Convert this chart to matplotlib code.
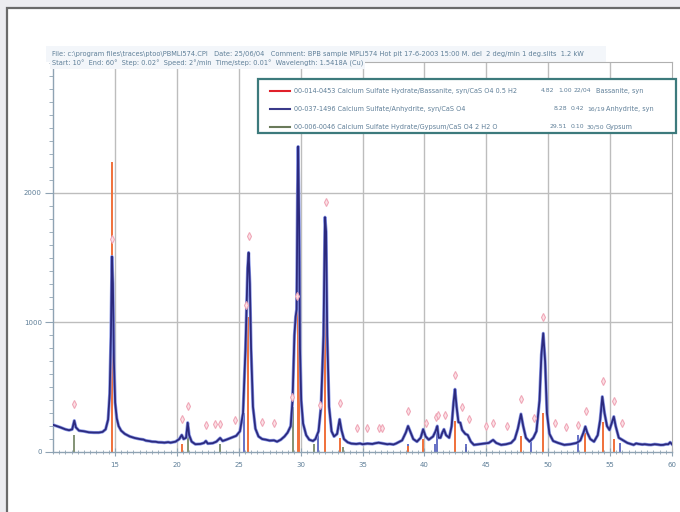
import matplotlib
matplotlib.use("Agg")
import matplotlib.pyplot as plt
from matplotlib.patches import Rectangle
from matplotlib.ticker import MultipleLocator

# ---------------- data ----------------
two_theta = [10.0, 10.3, 10.6, 11.0, 11.3, 11.55, 11.72, 11.85, 12.1, 12.5, 12.9, 13.3, 13.7, 14.0,
             14.25, 14.45, 14.58, 14.68, 14.76, 14.84, 14.92, 15.02, 15.15, 15.3, 15.5, 15.8, 16.2,
             16.6, 17.0, 17.3, 17.5, 17.8, 18.0, 18.3, 18.5, 18.8, 19.0, 19.3, 19.5, 19.9, 20.2,
             20.4, 20.55, 20.75, 20.88, 21.0,
             21.2, 21.5, 21.9, 22.2, 22.35, 22.5, 22.9, 23.2, 23.5, 23.7, 24.0, 24.4, 24.8, 25.1,
             25.35, 25.55, 25.72, 25.8, 25.9, 26.0, 26.15, 26.35, 26.6, 26.9, 27.2, 27.5, 27.85,
             28.1, 28.4, 28.7, 28.95, 29.2, 29.35, 29.5, 29.6, 29.68, 29.75, 29.8, 29.88, 29.95,
             30.05, 30.2, 30.45, 30.7, 31.0, 31.2, 31.45, 31.65, 31.85, 31.97, 32.06, 32.15, 32.3,
             32.5, 32.7, 32.95, 33.15, 33.3, 33.5, 33.8, 34.1, 34.5, 34.8, 35.0, 35.4, 35.8, 36.0,
             36.3, 36.7, 37.0, 37.2, 37.5, 37.7, 38.2, 38.5, 38.68, 38.85, 39.1, 39.4, 39.7, 39.9,
             40.1, 40.35, 40.7, 40.9,
             41.04, 41.15, 41.3, 41.45, 41.58, 41.75, 42.0, 42.2, 42.35, 42.47, 42.6, 42.75, 42.9,
             43.05, 43.3, 43.5, 43.75, 44.0, 44.4, 44.8, 45.2, 45.55, 45.8, 46.2, 46.6, 47.0, 47.3,
             47.55, 47.8, 47.98, 48.2, 48.5, 48.8, 49.05, 49.3, 49.45, 49.6, 49.75, 49.9, 50.1,
             50.4, 50.8, 51.3, 51.8, 52.3, 52.6, 52.85, 53.0, 53.15, 53.4, 53.7, 54.0, 54.2, 54.37,
             54.55, 54.75, 54.95, 55.15, 55.3, 55.45, 55.7, 56.0, 56.4, 56.9, 57.1, 57.3, 57.6,
             57.8, 58.1, 58.3, 58.6, 58.8, 59.1, 59.3, 59.5, 59.7, 59.85, 60.0]
counts = [210, 200, 190, 175, 168, 175, 242, 190, 165, 160, 152, 150, 150, 155,
          175, 250, 450, 900, 1508, 1300, 700, 380, 260, 200, 165, 140, 120,
          108, 100, 96, 88, 84, 80, 79, 75, 74, 72, 76, 72, 80, 100,
          131, 100, 110, 226, 130,
          80, 60, 62, 70, 85, 65, 68, 80, 108, 85, 95, 110, 125, 160,
          300, 800, 1420, 1539, 1300, 800, 350, 180, 120, 100, 95, 88, 90,
          80, 95, 120, 150, 200, 400, 900, 1045, 1100, 2000, 2357, 1800, 800,
          400, 220, 130, 95, 85, 100, 160, 350, 900, 1812, 1700, 900, 350,
          160, 120, 140, 252, 170, 100, 75, 65, 62, 66, 60, 65, 62, 67,
          72, 65, 60, 62, 58, 65, 90, 150, 200, 160, 100, 80, 110, 175,
          120, 95, 120, 160,
          200, 110, 110, 150, 175, 130, 110, 200, 380, 484, 350, 230, 226,
          170, 140, 131, 80, 55, 60, 65, 70, 93, 70, 55, 60, 70, 100,
          180, 293, 200, 110, 80, 110, 160, 400, 750, 916, 700, 300, 140,
          85, 70, 55, 60, 70, 90, 150, 196, 150, 100, 80, 130, 250, 427,
          300, 200, 170, 230, 273, 200, 110, 93, 70, 55, 66, 62, 58,
          60, 56, 55, 60, 58, 54, 55, 60, 60, 75, 60]

# reference stick patterns (2theta, height)
bassanite_pos = [14.78, 20.4, 25.72, 29.78, 29.9, 31.97, 33.2, 38.7, 39.9, 42.47, 47.8, 49.6, 52.95, 54.4, 55.3]
bassanite_h = [2240, 60, 1045, 2357, 1150, 1150, 110, 50, 100, 240, 120, 300, 150, 230, 100]
anhydrite_pos = [25.45, 31.4, 38.65, 40.85, 41.04, 43.35, 48.6, 52.4, 55.8]
anhydrite_h = [300, 150, 60, 60, 200, 60, 80, 130, 70]
gypsum_pos = [11.72, 20.9, 23.45, 29.4, 31.1, 33.4, 43.4]
gypsum_h = [130, 170, 60, 350, 60, 40, 40]

# peak-search markers
marker_x = [11.72, 14.80, 20.41, 20.90, 22.35, 23.1, 23.45, 24.73, 25.86, 25.6, 26.88, 27.88,
            29.31, 29.71, 31.58, 32.06, 33.2, 34.55, 35.38, 36.32, 36.59, 38.67, 40.1, 40.9,
            41.1, 41.64, 42.47, 43.0, 43.6, 44.95, 45.57, 46.7, 47.84, 48.86, 49.59, 50.54,
            51.43, 52.42, 53.04, 54.39, 55.33, 56.0]
marker_y = [371, 1642, 252, 355, 208, 216, 216, 247, 1668, 1135, 234, 226,
            427, 1207, 363, 1933, 376, 183, 183, 183, 183, 317, 221, 268,
            286, 286, 595, 350, 252, 200, 221, 200, 407, 260, 1045, 221,
            196, 208, 319, 551, 396, 221]

x_ticks = [15, 20, 25, 30, 35, 40, 45, 50, 55, 60]
y_ticks = [0, 1000, 2000]

legend_ids = ["00-014-0453 Calcium Sulfate Hydrate/Bassanite, syn/CaS O4 0.5 H2",
              "00-037-1496 Calcium Sulfate/Anhydrite, syn/CaS O4",
              "00-006-0046 Calcium Sulfate Hydrate/Gypsum/CaS O4 2 H2 O"]
legend_nums = [["4.82", "1.00", "22/04", "Bassanite, syn"],
               ["8.28", "0.42", "16/19", "Anhydrite, syn"],
               ["29.51", "0.10", "30/50", "Gypsum"]]
header1 = ("File: c:\\program files\\traces\\ptoo\\PBMLI574.CPI   Date: 25/06/04   Comment: BPB sample "
           "MPLI574 Hot pit 17-6-2003 15:00 M. del  2 deg/min 1 deg.slits  1.2 kW")
header2 = "Start: 10\u00b0  End: 60\u00b0  Step: 0.02\u00b0  Speed: 2\u00b0/min  Time/step: 0.01\u00b0  Wavelength: 1.5418A (Cu)"

# ---------------- figure ----------------
W, H = 680, 512
fig = plt.figure(figsize=(W / 100, H / 100), dpi=100, facecolor="#ececf0")

def fx(px):
    return px / W

def fy(py):
    return 1 - py / H

band = "#f3f6fa"
# white panel
fig.patches.append(Rectangle((fx(7), fy(530)), fx(700), 522 / H, transform=fig.transFigure,
                             facecolor="white", edgecolor="#6a6a6a", lw=1.6, zorder=-10))
# header band above the plot
fig.patches.append(Rectangle((fx(46), fy(62)), fx(560), 16 / H, transform=fig.transFigure,
                             facecolor=band, edgecolor="none", zorder=-9))

text_col = "#5f7f98"
fig.text(fx(52), fy(54), header1, fontsize=4.75, color=text_col, va="center", ha="left")
fig.text(fx(52), fy(63.5), header2, fontsize=4.75, color=text_col, va="center", ha="left",
         zorder=5, bbox=dict(facecolor=band, edgecolor="none", pad=1.2))

ax = fig.add_axes([fx(53), fy(452), fx(672 - 53), (452 - 62) / H])
ax.set_zorder(1)
ax.set_facecolor("none")
ax.set_xlim(10, 60)
ax.set_ylim(0, 3010)

for x in x_ticks[:-1]:
    ax.axvline(x, color="#bdbdbd", lw=1.0, zorder=1)
for y in y_ticks[1:]:
    ax.axhline(y, color="#bdbdbd", lw=1.0, zorder=1)

# sticks
ax.vlines(gypsum_pos, 0, gypsum_h, color="#7a8a6a", lw=1.3, zorder=2)
ax.vlines(anhydrite_pos, 0, anhydrite_h, color="#5a66c0", lw=1.3, zorder=2)
ax.vlines(bassanite_pos, 0, bassanite_h, color="#f0703a", lw=1.4, zorder=2)

# trace
ax.plot(two_theta, counts, color="#8a98e6", lw=2.3, zorder=3, solid_joinstyle="round")
ax.plot(two_theta, counts, color="#2c2a7e", lw=1.3, zorder=4, solid_joinstyle="round")

# markers
ax.plot(marker_x, marker_y, ls="none", marker="d", ms=4.2, mfc="#fbe0e6", mec="#f0a8b8",
        mew=0.8, zorder=5)

# axes styling
for s in ["top", "right"]:
    ax.spines[s].set_color("#b0b0b0")
for s in ["left", "bottom"]:
    ax.spines[s].set_color("#8fa3b3")
    ax.spines[s].set_linewidth(1.0)
ax.set_xticks(x_ticks)
ax.set_xticklabels([str(v) for v in x_ticks])
ax.set_yticks(y_ticks)
ax.set_yticklabels([str(v) for v in y_ticks])
ax.xaxis.set_minor_locator(MultipleLocator(0.5))
ax.yaxis.set_minor_locator(MultipleLocator(100))
ax.tick_params(axis="x", which="major", direction="inout", length=6, color="#8fa3b3",
               labelsize=5, labelcolor=text_col, pad=4)
ax.tick_params(axis="x", which="minor", direction="inout", length=3.5, color="#8fa3b3")
ax.tick_params(axis="y", which="major", direction="out", length=6, color="#8fa3b3",
               labelsize=5, labelcolor=text_col, pad=2)
ax.tick_params(axis="y", which="minor", direction="out", length=3, color="#8fa3b3")

# legend box (drawn above the axes)
lx0, ly0, lx1, ly1 = 258, 79, 676, 133
fig.patches.append(Rectangle((fx(lx0), fy(ly1)), fx(lx1 - lx0), (ly1 - ly0) / H,
                             transform=fig.transFigure, facecolor="white",
                             edgecolor="#3c7a7c", lw=1.6, zorder=6))
leg_colors = ["#e0202a", "#3a3a8a", "#6a7a5a"]
rows_y = [90.5, 109, 127]
num_x = [[541, 558, 574, 596], [554, 571, 587, 606], [550, 571, 587, 606]]
for i in range(3):
    fig.add_artist(plt.Line2D([fx(270), fx(290)], [fy(rows_y[i]), fy(rows_y[i])],
                              transform=fig.transFigure, color=leg_colors[i], lw=1.5, zorder=7))
    fig.text(fx(294), fy(rows_y[i]), legend_ids[i], fontsize=4.7, color=text_col,
             va="center", ha="left", zorder=7)
    for j in range(4):
        fs = 4.7 if j == 3 else 4.4
        fig.text(fx(num_x[i][j]), fy(rows_y[i]), legend_nums[i][j], fontsize=fs,
                 color=text_col, va="center", ha="left", zorder=7)

fig.savefig("out.png", dpi=100, facecolor=fig.get_facecolor())
